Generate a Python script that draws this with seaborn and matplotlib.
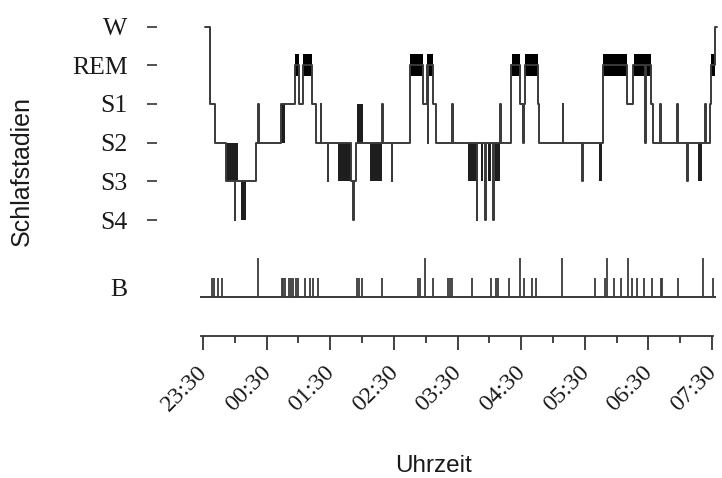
import numpy as np
import pandas as pd
import matplotlib
matplotlib.use('Agg')
import matplotlib.pyplot as plt
import matplotlib.transforms as mtransforms
import seaborn as sns

# --- data (minutes after 23:30) ---
stage_names = ['S4', 'S3', 'S2', 'S1', 'REM', 'W']
stage_level = {name: i for i, name in enumerate(stage_names)}

# step line: time of change -> new stage
stage_times = [1.5, 7, 11, 22, 30, 30.5, 50, 52, 52.7, 74, 87, 90.5, 94, 103, 107,
               111, 111.6, 117.5, 118.1, 140, 141.5, 142.1, 144, 169, 169.6, 178, 178.6,
               195, 207.5, 211, 212, 212.6, 217, 220, 235, 235.6, 258, 258.6, 266, 266.6,
               273.6, 274.2, 280, 280.6, 290, 299, 302, 302.6, 304, 316, 317, 339, 339.6,
               357.5, 358.1, 377, 400, 405.6, 417, 417.6, 422.6, 424.5, 431, 431.6, 447,
               447.6, 456.6, 457.2, 473.6, 474.2, 478, 478.6, 483, 485]
stage_seq = ['W', 'S1', 'S2', 'S3', 'S4', 'S3', 'S2', 'S1', 'S2', 'S1', 'REM', 'S1', 'REM', 'S1', 'S2',
             'S1', 'S2', 'S3', 'S2', 'S3', 'S4', 'S3', 'S2', 'S1', 'S2', 'S3', 'S2',
             'REM', 'S1', 'REM', 'S2', 'REM', 'S1', 'S2', 'S1', 'S2', 'S4', 'S2', 'S4', 'S2',
             'S4', 'S2', 'S1', 'S2', 'REM', 'S1', 'S2', 'S1', 'REM', 'S1', 'S2', 'S1', 'S2',
             'S3', 'S2', 'REM', 'S1', 'REM', 'S2', 'REM', 'S1', 'S2', 'S1', 'S2', 'S1',
             'S2', 'S3', 'S2', 'S1', 'S2', 'S1', 'REM', 'W', 'W']

# rapid stage switching drawn as solid blocks: start, end, upper, lower
block_start = [6.2, 22, 35.5, 74, 127, 145, 157.5, 250, 262, 269, 275.5, 373, 467]
block_end = [7.2, 33, 41, 77, 140, 151, 169, 259.5, 264, 271.5, 280, 376.5, 471]
block_upper = ['W', 'S2', 'S3', 'S1', 'S2', 'S1', 'S2', 'S2', 'S2', 'S2', 'S2', 'S2', 'S2']
block_lower = ['S1', 'S3', 'S4', 'S2', 'S3', 'S2', 'S3', 'S3', 'S3', 'S3', 'S3', 'S3', 'S3']

# REM periods
rem_start = [87, 94, 195, 211, 291, 304, 377, 406, 478.6]
rem_end = [90.5, 103, 207.5, 217, 299, 315.5, 400, 422.6, 483]

# B events
b_short = [8.2, 10.4, 14.4, 17.6, 74.2, 75.8, 77.4, 81.1, 83, 85.2, 87.7, 89.9, 96.2,
           100.9, 103.5, 108.8, 145.3, 146.7, 149.7, 168.9, 202.8, 204.7, 217, 231,
           232.8, 234.9, 253.8, 271.7, 276.4, 278.3, 288.7, 302.8, 310.4, 314, 369.8,
           379.2, 387.7, 394.3, 404.7, 409.4, 416, 423.6, 432, 433, 448, 481.1]
b_tall = [52.2, 209.4, 299, 338.7, 381.1, 400.9, 471.7]

hour_labels = ['23:30', '00:30', '01:30', '02:30', '03:30', '04:30', '05:30', '06:30', '07:30']

# --- plot ---
sns.set_theme(style='white')
plt.rcParams['font.family'] = ['Liberation Serif', 'DejaVu Serif']

LINE = '#3a3a3a'
B_LEVEL = -2.0

fig = plt.figure(figsize=(7.22, 4.78), dpi=100)
ax = fig.add_axes([199.8 / 722, (478 - 336.1) / 478, 518.6 / 722, 321.2 / 478])

df = pd.DataFrame({'t': stage_times, 'level': [stage_level[s] for s in stage_seq]})
sns.lineplot(data=df, x='t', y='level', drawstyle='steps-post', estimator=None,
             sort=False, color=LINE, lw=1.4, ax=ax)

for s, e, hi, lo in zip(block_start, block_end, block_upper, block_lower):
    ax.fill_between([s, e], stage_level[lo], stage_level[hi], color='#1e1e1e', lw=0)

rem = stage_level['REM']
for s, e in zip(rem_start, rem_end):
    ax.fill_between([s, e], rem - 0.28, rem + 0.30, color='black', lw=0)

ax.hlines(B_LEVEL, -3, 484, color=LINE, lw=1.4)
ax.vlines(b_short, B_LEVEL, B_LEVEL + 0.51, color=LINE, lw=1.3)
ax.vlines(b_tall, B_LEVEL, B_LEVEL + 1.03, color=LINE, lw=1.3)

ax.set_xlim(-3, 486)
ax.set_ylim(-3.0, 5.3)

# y axis: stage names + B
ax.set_yticks([5, 4, 3, 2, 1, 0, B_LEVEL + 0.25])
ax.set_yticklabels(['W', 'REM', 'S1', 'S2', 'S3', 'S4', 'B'])
ax.spines['left'].set_position(('outward', 31))
ax.spines['left'].set_visible(False)
ax.tick_params(axis='y', length=7, width=1.2, color='#333333', pad=14,
               labelsize=18.5, labelcolor='#1a1a1a', left=True)
ax.yaxis.get_major_ticks()[-1].tick1line.set_visible(False)

# x axis: clock time
ax.set_xticks(np.arange(0, 481, 60))
ax.set_xticklabels(hour_labels)
ax.set_xticks(np.arange(30, 480, 60), minor=True)
for side in ['top', 'right']:
    ax.spines[side].set_visible(False)
ax.spines['bottom'].set_bounds(-2, 481)
ax.spines['bottom'].set_color('#333333')
ax.spines['bottom'].set_linewidth(1.3)
ax.tick_params(axis='x', which='major', length=10, width=1.3, color='#333333',
               direction='out', bottom=True, pad=14, labelsize=17.5, labelcolor='#1a1a1a')
ax.tick_params(axis='x', which='minor', length=5, width=1.3, color='#333333',
               direction='out', bottom=True)
offset = mtransforms.ScaledTranslation(1 / 100, 0, fig.dpi_scale_trans)
for lab in ax.get_xticklabels():
    lab.set_rotation(45)
    lab.set_ha('right')
    lab.set_va('center')
    lab.set_rotation_mode('anchor')
    lab.set_transform(lab.get_transform() + offset)

ax.set_xlabel('')
ax.set_ylabel('')
ax.grid(False)

fig.text(22 / 722, 1 - 171 / 478, 'Schlafstadien', rotation=90, ha='center', va='center',
         fontsize=18, family=['Liberation Sans', 'DejaVu Sans'], color='#1a1a1a')
fig.text(433 / 722, 1 - 466 / 478, 'Uhrzeit', ha='center', va='center',
         fontsize=17.5, family=['Liberation Sans', 'DejaVu Sans'], color='#1a1a1a')

fig.savefig('out.png', dpi=100)
